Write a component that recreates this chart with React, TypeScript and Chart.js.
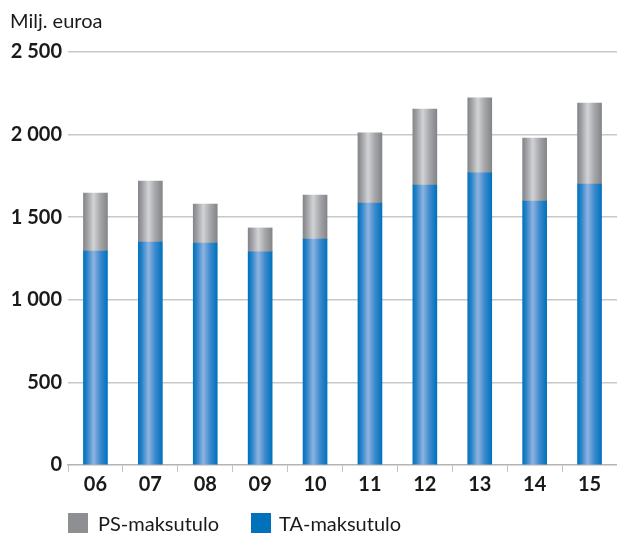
import React, { useEffect, useRef } from "react";
import { Chart, registerables } from "chart.js";

Chart.register(...registerables);

const categories = ["06", "07", "08", "09", "10", "11", "12", "13", "14", "15"];
const taValues = [1295, 1350, 1344, 1290, 1368, 1586, 1695, 1768, 1598, 1701];
const psValues = [351, 369, 236, 145, 266, 424, 460, 454, 381, 490];
const yTicks = [0, 500, 1000, 1500, 2000, 2500];

const FONT = "Lato, 'Open Sans', sans-serif";
const BAR_W = 24;

function gradientFor(ctx: any, stops: [number, string][]) {
  const chart = ctx.chart;
  const xs = chart.scales && chart.scales.x;
  if (!xs || ctx.dataIndex === undefined) return stops[0][1];
  const cx = xs.getPixelForValue(ctx.dataIndex);
  if (!isFinite(cx)) return stops[0][1];
  const g = chart.ctx.createLinearGradient(cx - BAR_W / 2, 0, cx + BAR_W / 2, 0);
  stops.forEach(([o, c]) => g.addColorStop(o, c));
  return g;
}

const blueStops: [number, string][] = [
  [0, "#0072bc"],
  [0.15, "#2a83c8"],
  [0.42, "#8fb3e0"],
  [0.7, "#3d8ace"],
  [1, "#0072bc"],
];
const greyStops: [number, string][] = [
  [0, "#85868a"],
  [0.15, "#9d9ea2"],
  [0.42, "#d2d3d5"],
  [0.7, "#a6a7aa"],
  [1, "#848589"],
];

export default function App() {
  const ref = useRef<HTMLCanvasElement | null>(null);

  useEffect(() => {
    if (!ref.current) return;
    const chart = new Chart(ref.current, {
      type: "bar",
      data: {
        labels: categories,
        datasets: [
          {
            label: "TA-maksutulo",
            data: taValues,
            backgroundColor: (c: any) => gradientFor(c, blueStops),
            barThickness: BAR_W,
            stack: "s",
          },
          {
            label: "PS-maksutulo",
            data: psValues,
            backgroundColor: (c: any) => gradientFor(c, greyStops),
            barThickness: BAR_W,
            stack: "s",
          },
        ],
      },
      options: {
        animation: false,
        responsive: false,
        layout: { padding: { top: 52, bottom: 40, left: 0, right: 0 } },
        plugins: {
          legend: { display: false },
          tooltip: { enabled: false },
        },
        scales: {
          x: {
            stacked: true,
            offset: true,
            grid: {
              display: true,
              drawOnChartArea: false,
              offset: true,
              tickLength: 7,
              color: "#c4c4c4",
              lineWidth: 1,
            },
            border: { display: true, color: "#b4b4b4", width: 1.5 },
            ticks: {
              color: "#1a1a1a",
              font: { family: FONT, size: 20, weight: "bold" },
              padding: 1,
            },
            afterFit: (s: any) => {
              s.height = 30;
            },
          },
          y: {
            stacked: true,
            min: 0,
            max: 2500,
            afterBuildTicks: (s: any) => {
              s.ticks = yTicks.map((v) => ({ value: v }));
            },
            grid: {
              drawTicks: false,
              color: (c: any) => (c.tick && c.tick.value === 0 ? "rgba(0,0,0,0)" : "#c8c8c8"),
              lineWidth: 1.5,
            },
            border: { display: false },
            ticks: {
              color: "#1a1a1a",
              padding: 6,
              font: { family: FONT, size: 20, weight: "bold" },
              callback: (v: any) => String(v).replace(/\B(?=(\d{3})+(?!\d))/g, " "),
            },
            afterFit: (s: any) => {
              s.width = 68;
            },
          },
        },
      },
    });
    return () => chart.destroy();
  }, []);

  const textStyle: React.CSSProperties = {
    position: "absolute",
    fontFamily: FONT,
    fontSize: 20,
    color: "#1a1a1a",
    whiteSpace: "nowrap",
    lineHeight: "22px",
  };

  return (
    <div style={{ position: "fixed", left: 0, top: 0, width: 617, height: 535, background: "#fff" }}>
      <canvas ref={ref} width={617} height={535} style={{ position: "absolute", left: 0, top: 0 }} />
      <div style={{ ...textStyle, left: 10, top: 9, fontSize: 20 }}>Milj. euroa</div>
      <div style={{ position: "absolute", left: 68, top: 513, width: 20, height: 20, background: "#8e8f92" }} />
      <div style={{ ...textStyle, left: 98, top: 512 }}>PS-maksutulo</div>
      <div style={{ position: "absolute", left: 251, top: 513, width: 20, height: 20, background: "#0072bc" }} />
      <div style={{ ...textStyle, left: 279, top: 512 }}>TA-maksutulo</div>
    </div>
  );
}
